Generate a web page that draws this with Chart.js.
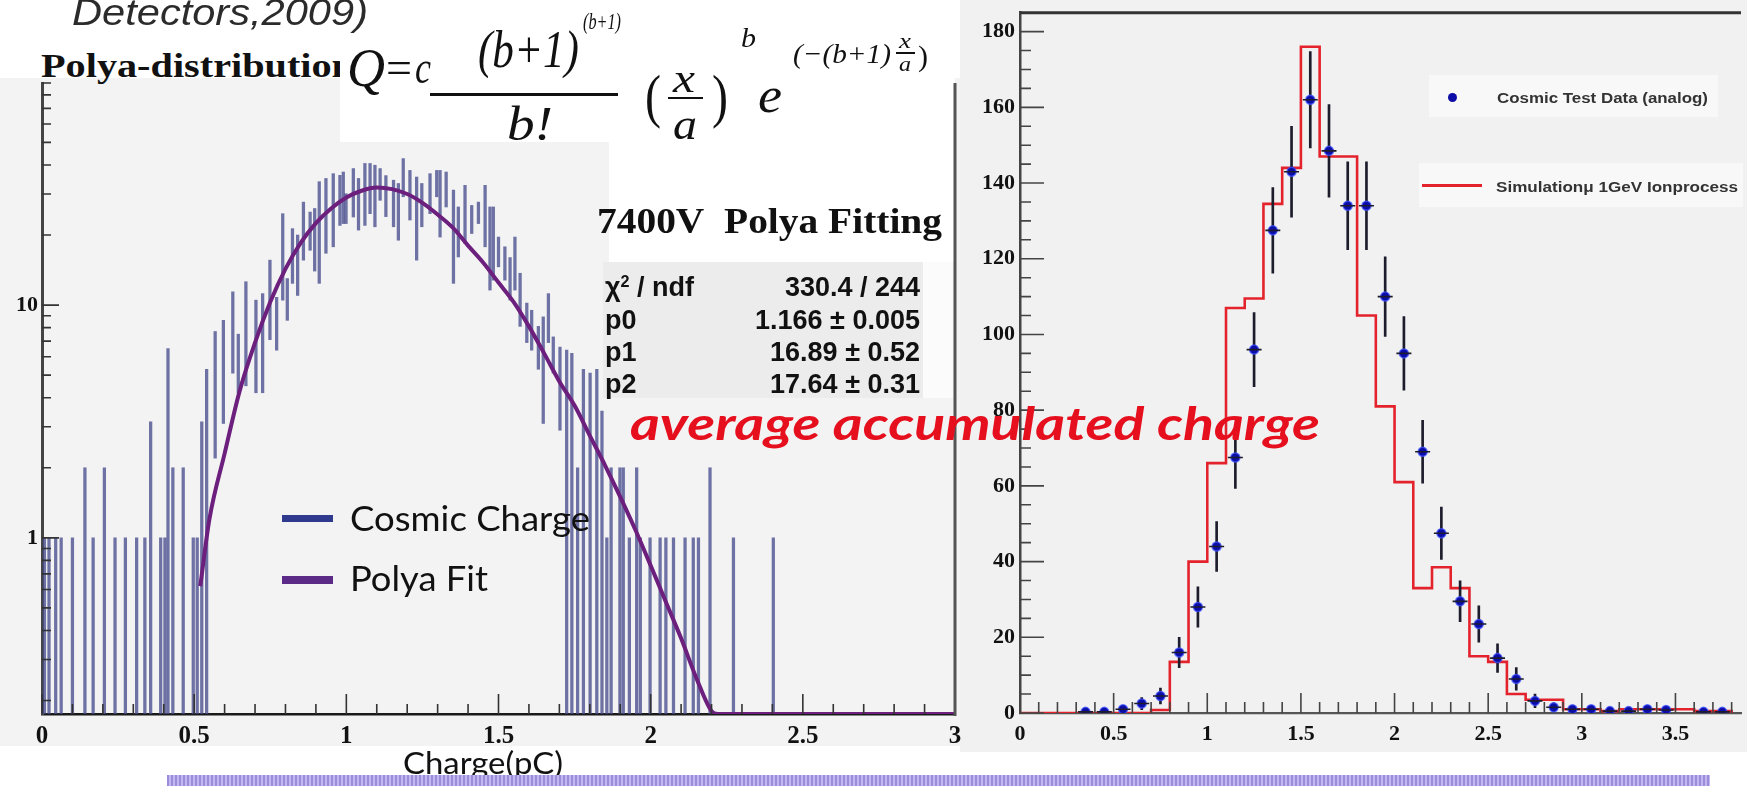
<!DOCTYPE html>
<html><head><meta charset="utf-8">
<script src="https://cdn.jsdelivr.net/npm/chart.js@4.4.1/dist/chart.umd.min.js"></script>
<style>
html,body{margin:0;padding:0;background:#fff;width:1747px;height:786px;overflow:hidden;position:relative;}
.abs{position:absolute;}
.t{position:absolute;white-space:nowrap;line-height:1;transform-origin:0 0;z-index:5;}
canvas{position:absolute;z-index:3;}
</style></head><body>
<div class="abs" style="left:0;top:78px;width:960px;height:668px;background:#f3f3f3;z-index:0"></div>
<div class="abs" style="left:960px;top:0;width:787px;height:752px;background:#f1f1f1;z-index:0"></div>
<div class="abs" style="left:340px;top:0;width:269px;height:142px;background:#fff;z-index:2"></div>
<div class="abs" style="left:609px;top:0;width:346px;height:262px;background:#fff;z-index:2"></div>
<div class="abs" style="left:603px;top:262px;width:320px;height:136px;background:#ececec;z-index:2"></div>
<div class="abs" style="left:923px;top:262px;width:30px;height:136px;background:#fbfbfb;z-index:2"></div>
<div class="abs" style="left:1429px;top:75px;width:289px;height:42px;background:#f8f8f8;z-index:2"></div>
<div class="abs" style="left:1419px;top:163px;width:324px;height:44px;background:#f8f8f8;z-index:2"></div>
<canvas id="cL" width="1000" height="786" style="left:0;top:0;width:1000px;height:786px"></canvas>
<canvas id="cR" width="787" height="786" style="left:960px;top:0;width:787px;height:786px"></canvas>
<div class="abs" style="left:167px;top:775px;width:1543px;height:11px;z-index:6;background:repeating-linear-gradient(90deg,#9d8cdc 0 2px,#c3b7ef 2px 4px)"></div>
<script>
// ---------- LEFT PANEL DATA (Polya fit, log scale) ----------
const leftXTicks  = [0, 0.5, 1, 1.5, 2, 2.5, 3];
const leftXLabels = ['0','0.5','1','1.5','2','2.5','3'];
const leftYTicks  = [1, 10];
const leftYLabels = ['1','10'];
// histogram error segments: bin position, lower end, upper end
const histX  = [0.008,0.023,0.045,0.063,0.100,0.141,0.168,0.205,0.240,0.274,0.311,0.338,0.357,0.390,0.404,0.414,0.430,0.464,0.497,0.510,0.525,0.541,
  0.569,0.596,0.627,0.645,0.670,0.703,0.725,0.749,0.771,0.791,0.806,0.823,0.840,0.859,0.881,0.896,0.911,0.933,0.957,0.979,0.990,0.999,
  1.023,1.040,1.061,1.078,1.094,1.111,1.130,1.155,1.171,1.187,1.209,1.231,1.248,1.275,1.297,1.308,1.328,1.352,1.368,1.390,1.412,1.434,
  1.456,1.472,1.483,1.500,1.521,1.538,1.554,1.571,1.593,1.609,1.631,1.647,1.664,1.680,1.702,1.724,1.741,1.760,1.779,1.801,1.823,1.840,
  1.856,1.870,1.899,1.910,1.930,1.954,1.966,1.998,2.031,2.050,2.075,2.113,2.140,2.157,2.195,2.272,2.403];
const histLo = [0.175,0.175,0.175,0.175,0.175,0.175,0.175,0.175,0.175,0.175,0.175,0.175,0.175,0.175,0.175,0.175,0.175,0.175,0.175,0.175,0.175,0.175,
  2.2,3.1,5.1,4.2,4.5,4.2,4.2,7.1,6.4,10.5,8.6,12.4,11,15.6,17.2,14,12.4,16.7,17.8,22,22.4,22.4,
  23.9,21,22,24.7,21.7,28.2,24,21.7,19,29.2,23.2,15.6,21.7,24.7,29.2,19.6,26.4,12.4,16.1,18.4,20.3,22.4,
  17.8,11.6,12.8,14.6,12.8,10.5,11.6,8.1,6.9,6.4,5.3,3.1,6.9,5.1,2.9,0.175,0.175,0.175,0.175,0.175,0.175,0.175,
  0.175,0.175,0.175,0.175,0.175,0.175,0.175,0.175,0.175,0.175,0.175,0.175,0.175,0.175,0.175,0.175,0.175];
const histHi = [1,1,1,1,1,2,1,2,1,1,1,1,3.15,1,1,6.5,2,2,1,1,3.15,5.3,
  7.7,8.6,11.4,7.5,12.6,10.5,11.2,15.6,10.8,24.7,13,21.3,20,27.7,25.1,26,33.9,35,36.7,36.1,37.3,30.1,
  38.6,35,40.6,40.6,39.9,38.6,36,34.4,33.3,42.6,37.9,35.5,33.3,36.7,37.9,37.9,37.3,31.2,26.4,32.7,26.8,27.7,
  32.7,26.4,26.4,19.6,17.8,16,19.6,13.7,10.2,9.5,8.1,8.9,11.2,7.3,6.6,6.4,6.2,2,5.3,5.1,5.3,3.5,
  1,2,2,2,1,2,1,1,1,1,1,1,1,1,2,1,1];
// Polya fit curve
const fitX = [0.52,0.55,0.6,0.65,0.7,0.75,0.8,0.85,0.9,0.95,1.0,1.05,1.1,1.15,1.2,1.25,1.3,1.35,1.4,1.45,1.5,1.55,1.6,1.65,1.7,1.75,1.8,1.85,1.9,1.95,2.0,2.05,2.1,2.15,2.2,2.22,3.0];
const fitY = [0.62,1.2,2.3,4.3,6.9,10.3,14.3,18.5,22.5,26,29,31,32,31.5,30,27.5,24.5,21.5,18,15.2,12.5,10.3,8.1,6.2,4.7,3.7,2.75,2.05,1.5,1.08,0.76,0.53,0.37,0.25,0.18,0.175,0.175];

// ---------- RIGHT PANEL DATA ----------
const rightXTicks  = [0,0.5,1,1.5,2,2.5,3,3.5];
const rightXLabels = ['0','0.5','1','1.5','2','2.5','3','3.5'];
const rightYTicks  = [0,20,40,60,80,100,120,140,160,180];
const rightYLabels = ['0','20','40','60','80','100','120','140','160','180'];
const dataX   = [0.35,0.45,0.55,0.65,0.75,0.85,0.95,1.05,1.15,1.25,1.35,1.45,1.55,1.65,1.75,1.85,1.95,2.05,2.15,2.25,2.35,2.45,2.55,2.65,2.75,2.85,2.95,3.05,3.15,3.25,3.35,3.45,3.65,3.75];
const dataY   = [0.3,0.3,1,2.5,4.5,16,28,44,67.5,96,127.5,143,162,148.5,134,134,110,95,69,47.5,29.5,23.5,14.5,9,3.2,1.5,1,1,0.5,0.5,1,0.8,0.3,0.3];
const dataErr = [0.5,0.5,1,1.6,2.1,4,5.3,6.6,8.2,9.8,11.3,12,12.7,12.2,11.6,11.6,10.5,9.7,8.3,6.9,5.4,4.8,3.8,3,1.8,1.2,1,1,0.7,0.7,1,0.9,0.5,0.5];
const simEdges  = [0,0.7,0.8,0.9,1.0,1.1,1.2,1.3,1.4,1.5,1.6,1.7,1.8,1.9,2.0,2.1,2.2,2.3,2.4,2.5,2.6,2.7,2.8,2.9,3.0,3.1,3.2,3.3,3.4,3.5,3.6,3.7,3.8];
const simValues = [0,0.8,13.5,40,66,107,109.5,134.5,144,176,147,147,105,81,61,33,38.5,33,15,13.5,5,3.5,3.5,1,1,0.5,1,1,1,1,0.5,0.5,0];

const SERIF = "'Liberation Serif','Times New Roman',serif";
const SANS  = "'Liberation Sans',Arial,sans-serif";
const LATO  = "Lato,'Open Sans',sans-serif";

function labelOf(ticks, labels){ return (v)=>{ const i = ticks.findIndex(t=>Math.abs(t-v)<1e-9); return i<0?'':labels[i]; }; }

// inward ticks + frame plugin
function tickPlugin(id, cfg){
  return { id, afterDatasetsDraw(chart){
    const {ctx, chartArea:a, scales:{x,y}} = chart;
    ctx.save();
    ctx.strokeStyle = cfg.color; ctx.lineWidth = cfg.width;
    ctx.beginPath();
    cfg.xt.forEach(([v,len])=>{ const px=x.getPixelForValue(v); if(px>=a.left-1&&px<=a.right+1){ctx.moveTo(px,a.bottom); ctx.lineTo(px,a.bottom-len);} });
    cfg.yt.forEach(([v,len])=>{ const py=y.getPixelForValue(v); if(py>=a.top-1&&py<=a.bottom+1){ctx.moveTo(a.left,py); ctx.lineTo(a.left+len,py);} });
    ctx.stroke();
    if(cfg.frame) cfg.frame(ctx,a,x,y);
    ctx.restore();
  }};
}

// ---------- LEFT CHART ----------
const lxt=[]; for(let i=0;i<=30;i++) lxt.push([i/10, i%5===0?20:10]);
const lyt=[]; [0.1,1,10].forEach(d=>{ for(let m=1;m<=9;m++){ const v=m*d; if(v>=0.175&&v<=90) lyt.push([v, m===1?17:9]); } });

new Chart(document.getElementById('cL'), {
  type:'bar',
  data:{ datasets:[
    { type:'line', label:'Polya Fit', data: fitX.map((x,i)=>({x, y:fitY[i]})), borderColor:'#6c1f7c', borderWidth:4,
      pointRadius:0, cubicInterpolationMode:'monotone', order:0 },
    { type:'bar', label:'Cosmic Charge', data: histX.map((x,i)=>({x, y:[histLo[i], histHi[i]]})),
      backgroundColor:'rgba(70,76,140,0.78)', borderWidth:0, barThickness:2.6, grouped:false, order:1 }
  ]},
  options:{
    animation:false, responsive:false, devicePixelRatio:1, events:[],
    layout:{ padding:{ top:83, right:45, left:0, bottom:0 } },
    plugins:{ legend:{display:false}, tooltip:{enabled:false} },
    scales:{
      x:{ type:'linear', min:0, max:3, offset:false,
        afterFit(s){ s.height = 72; },
        afterBuildTicks(s){ s.ticks = leftXTicks.map(v=>({value:v})); },
        ticks:{ callback: labelOf(leftXTicks,leftXLabels), autoSkip:false, maxRotation:0, padding:8, color:'#111', font:{family:SERIF, size:25, weight:'bold'} },
        grid:{ display:false, drawTicks:false, offset:false }, border:{ display:true, color:'#1a1a1a', width:2.5 } },
      y:{ type:'logarithmic', min:0.175, max:90,
        afterFit(s){ s.width = 42; },
        afterBuildTicks(s){ s.ticks = leftYTicks.map(v=>({value:v})); },
        ticks:{ callback: labelOf(leftYTicks,leftYLabels), autoSkip:false, padding:4, color:'#111', font:{family:SERIF, size:22, weight:'bold', lineHeight:0.8} },
        grid:{ display:false, drawTicks:false }, border:{ display:true, color:'#444', width:3 } }
    }
  },
  plugins:[ tickPlugin('tL',{ color:'#333', width:1.6, xt:lxt, yt:lyt,
    frame(ctx,a){ ctx.strokeStyle='#555'; ctx.lineWidth=3; ctx.beginPath(); ctx.moveTo(a.right,a.top); ctx.lineTo(a.right,a.bottom+2); ctx.stroke(); } }) ]
});

// ---------- RIGHT CHART ----------
const rxt=[]; for(let i=0;i<=38;i++) rxt.push([i/10, i%5===0?20:11]);
const ryt=[]; for(let v=0;v<=185;v+=5) ryt.push([v, v%20===0?24:11]);

new Chart(document.getElementById('cR'), {
  type:'bar',
  data:{ datasets:[
    { type:'line', label:'Simulation', data: simEdges.map((x,i)=>({x, y:simValues[i]})), borderColor:'#e4222c', borderWidth:2.6,
      pointRadius:0, stepped:true, order:3 },
    { type:'bar', label:'err', data: dataX.map((x,i)=>({x, y:[dataY[i]-dataErr[i], dataY[i]+dataErr[i]]})),
      backgroundColor:'#1c1c2c', borderWidth:0, barThickness:2, grouped:false, order:2 },
    { type:'line', label:'Cosmic Test Data (analog)', data: dataX.map((x,i)=>({x, y:dataY[i]})), showLine:false,
      pointRadius:4.5, pointBackgroundColor:'#0c0ca6', pointBorderColor:'rgba(60,80,255,0.75)', pointBorderWidth:1.5, order:1 }
  ]},
  options:{
    animation:false, responsive:false, devicePixelRatio:1, events:[],
    layout:{ padding:{ top:9, right:0, left:0, bottom:0 } },
    plugins:{ legend:{display:false}, tooltip:{enabled:false} },
    scales:{
      x:{ type:'linear', min:0, max:3.85, offset:false,
        afterFit(s){ s.height = 73; },
        afterBuildTicks(s){ s.ticks = rightXTicks.map(v=>({value:v})); },
        ticks:{ callback: labelOf(rightXTicks,rightXLabels), autoSkip:false, maxRotation:0, padding:8, color:'#111', font:{family:SERIF, size:22, weight:'bold'} },
        grid:{ display:false, drawTicks:false, offset:false }, border:{ display:true, color:'#555', width:2.2 } },
      y:{ type:'linear', min:0, max:185,
        afterFit(s){ s.width = 60; },
        afterBuildTicks(s){ s.ticks = rightYTicks.map(v=>({value:v})); },
        ticks:{ callback: labelOf(rightYTicks,rightYLabels), autoSkip:false, padding:5, color:'#111', font:{family:SERIF, size:22, weight:'bold', lineHeight:0.7} },
        grid:{ display:false, drawTicks:false }, border:{ display:true, color:'#444', width:2.5 } }
    }
  },
  plugins:[ tickPlugin('tR',{ color:'#444', width:1.6, xt:rxt, yt:ryt,
    frame(ctx,a,x,y){
      ctx.strokeStyle='#333'; ctx.lineWidth=3; ctx.beginPath(); ctx.moveTo(a.left,a.top); ctx.lineTo(a.right,a.top); ctx.stroke();
      ctx.strokeStyle='#1c1c2c'; ctx.lineWidth=1.6; ctx.beginPath();
      dataX.forEach((dx,i)=>{ const py=y.getPixelForValue(dataY[i]); ctx.moveTo(x.getPixelForValue(dx-0.04),py); ctx.lineTo(x.getPixelForValue(dx+0.04),py); });
      ctx.stroke();
    } }) ]
});

// ---------- TEXT ----------
const fits=[];
function T(txt, o){
  const e=document.createElement('div'); e.className='t';
  if(o.html) e.innerHTML=txt; else e.textContent=txt;
  e.style.font=`${o.st||'normal'} ${o.wt||'normal'} ${o.s}px ${o.f}`;
  e.style.color=o.c||'#111';
  e.style.left=(o.x||0)+'px';
  e.style.top=(o.b-(o.k||0.84)*o.s)+'px';
  if(o.z!==undefined) e.style.zIndex=o.z;
  document.body.appendChild(e);
  fits.push([e,o]);
  return e;
}
function R(x,y,w,h,c,z){ const d=document.createElement('div'); d.className='abs'; d.style.cssText=`left:${x}px;top:${y}px;width:${w}px;height:${h}px;background:${c};z-index:${z||5}`; document.body.appendChild(d); return d; }

T('Detectors,2009)', {x:72,b:23,s:36,f:SANS,st:'italic',c:'#2b2b2b',w:296,k:0.85});
T('Polya-distribution', {x:41,b:76,s:33,f:SERIF,wt:'bold',c:'#111',w:313,z:1});
// formula
T('Q', {x:347,b:82,s:54,f:SERIF,st:'italic',w:38});
T('=', {x:386,b:80,s:46,f:SERIF,w:26});
T('c', {x:415,b:80,s:46,f:SERIF,st:'italic',w:16});
T('(b+1)', {x:478,b:64,s:52,f:SERIF,st:'italic',w:101});
T('(b+1)', {x:583,b:28,s:23,f:SERIF,st:'italic',w:38});
R(430,93,188,2.5,'#111');
T('b!', {x:507,b:136,s:48,f:SERIF,st:'italic',w:46});
T('(', {x:645,b:112,s:60,f:SERIF,w:16});
T('x', {x:673,b:89,s:40,f:SERIF,st:'italic',w:22});
R(668,97,35,2,'#111');
T('a', {x:673,b:136,s:44,f:SERIF,st:'italic',w:24});
T(')', {x:712,b:112,s:60,f:SERIF,w:16});
T('b', {x:741,b:46,s:28,f:SERIF,st:'italic',w:15});
T('e', {x:758,b:108,s:50,f:SERIF,st:'italic',w:24});
T('(\u2212(b+1)', {x:793,b:62,s:28,f:SERIF,st:'italic',w:98});
T('x', {x:899,b:47,s:20,f:SERIF,st:'italic',w:12});
R(896,52,19,1.6,'#111');
T('a', {x:899,b:70,s:20,f:SERIF,st:'italic',w:12});
T(')', {x:918,b:64,s:30,f:SERIF,w:10});
// fit title and stats
T('7400V\u00a0\u00a0Polya Fitting', {x:597,b:231,s:35,f:SERIF,wt:'bold',w:345});
const stOpt={s:27,f:SANS,wt:'bold',c:'#111',k:0.85};
T('\u03c7<sup style="font-size:60%;vertical-align:0.55em;line-height:0">2</sup> / ndf', Object.assign({x:605,b:295,html:true},stOpt));
T('p0', Object.assign({x:605,b:328},stOpt));
T('p1', Object.assign({x:605,b:360},stOpt));
T('p2', Object.assign({x:605,b:392},stOpt));
T('330.4 / 244', Object.assign({r:920,b:295},stOpt));
T('1.166 \u00b1 0.005', Object.assign({r:920,b:328},stOpt));
T('16.89 \u00b1 0.52', Object.assign({r:920,b:360},stOpt));
T('17.64 \u00b1 0.31', Object.assign({r:920,b:392},stOpt));
// left legend
R(282,515,51,7,'#2f3a8e');
T('Cosmic Charge', {x:350,b:527,s:34,f:LATO,c:'#111',w:240,k:0.89});
R(282,576,51,8,'#5b2a86');
T('Polya Fit', {x:350,b:587,s:34,f:LATO,c:'#111',w:138,k:0.89});
T('Charge(pC)', {x:403,b:771,s:30,f:LATO,c:'#111',w:160,k:0.89});
// overlay title
T('average accumulated charge', {x:630,b:436,s:46,f:LATO,st:'italic',wt:'bold',c:'#e60f1e',w:690,k:0.89,z:7});
// right legend
const dot=R(1447.5,92.5,9,9,'#0c0ca6'); dot.style.borderRadius='50%';
T('Cosmic Test Data (analog)', {x:1497,b:102,s:14,f:SANS,wt:'bold',c:'#333',w:211,k:0.85});
R(1422,184,60,2.5,'#e4222c');
T('Simulation\u03bc 1GeV Ionprocess', {x:1496,b:191,s:14,f:SANS,wt:'bold',c:'#333',w:242,k:0.85});

function doFit(){
  fits.forEach(([e,o])=>{
    e.style.transform='none';
    const nw=e.getBoundingClientRect().width;
    if(o.w){ e.style.transform=`scaleX(${o.w/nw})`; if(o.r!==undefined) e.style.left=(o.r-o.w)+'px'; }
    else if(o.r!==undefined){ e.style.left=(o.r-nw)+'px'; }
  });
}
doFit();
if(document.fonts && document.fonts.ready) document.fonts.ready.then(doFit);
</script>
</body></html>
